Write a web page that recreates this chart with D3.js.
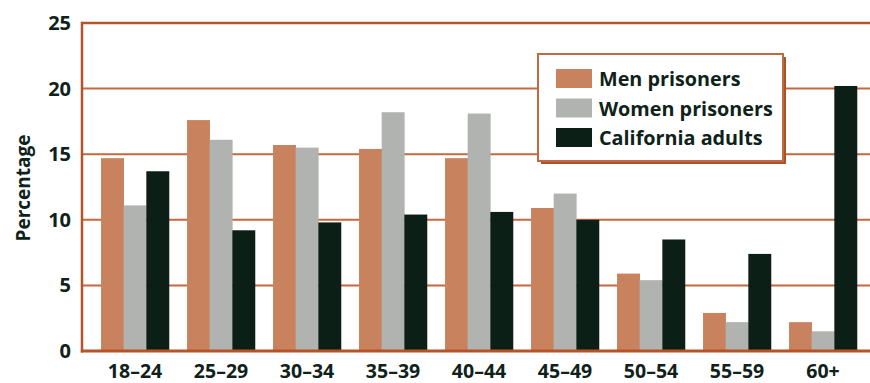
<!DOCTYPE html>
<html>
<head>
<meta charset="utf-8">
<script src="https://cdn.jsdelivr.net/npm/d3@7"></script>
<style>
  html, body { margin: 0; padding: 0; background: #fff; }
  svg { display: block; }
  text { font-family: "Open Sans", "Noto Sans", sans-serif; font-weight: 700; fill: #0f2219; }
</style>
</head>
<body>
<svg id="chart" width="870" height="383"></svg>
<script>
// Age groups on the horizontal axis
const ageGroups = ["18–24", "25–29", "30–34", "35–39", "40–44", "45–49", "50–54", "55–59", "60+"];

// Share of each population in each age group (percent)
const menPrisoners   = [14.7, 17.6, 15.7, 15.4, 14.7, 10.9, 5.9, 2.9, 2.2];
const womenPrisoners = [11.1, 16.1, 15.5, 18.2, 18.1, 12.0, 5.4, 2.2, 1.5];
const californiaAdults = [13.7, 9.2, 9.8, 10.4, 10.6, 10.0, 8.5, 7.4, 20.2];

const seriesNames = ["Men prisoners", "Women prisoners", "California adults"];
const seriesValues = [menPrisoners, womenPrisoners, californiaAdults];
const seriesColors = ["#c8835e", "#b1b3b0", "#0c1f16"];

const yTicks = [0, 5, 10, 15, 20, 25];

const svg = d3.select("#chart");
const axisColor = "#b5542a";
const gridColor = "#c4683f";

const plotLeft = 82, plotRight = 870, plotTop = 23, plotBottom = 351;

const x = d3.scaleBand()
  .domain(ageGroups)
  .range([92, 866])
  .paddingInner(0.21)
  .paddingOuter(0.105);

const xSub = d3.scaleBand()
  .domain(seriesNames)
  .range([0, x.bandwidth()]);

const y = d3.scaleLinear()
  .domain([0, 25])
  .range([plotBottom, plotTop]);

// Horizontal gridlines
svg.append("g")
  .selectAll("line")
  .data(yTicks.filter(t => t > 0 && t < 25))
  .join("line")
  .attr("x1", plotLeft).attr("x2", plotRight)
  .attr("y1", d => y(d)).attr("y2", d => y(d))
  .attr("stroke", gridColor)
  .attr("stroke-width", 2);

// Top frame line
svg.append("line")
  .attr("x1", plotLeft).attr("x2", plotRight)
  .attr("y1", y(25)).attr("y2", y(25))
  .attr("stroke", axisColor).attr("stroke-width", 2.5);

// Bars
const rows = ageGroups.map((g, i) => ({ group: g, values: seriesNames.map((s, j) => ({ series: s, value: seriesValues[j][i], color: seriesColors[j] })) }));

svg.append("g")
  .selectAll("g")
  .data(rows)
  .join("g")
  .attr("transform", d => `translate(${x(d.group)},0)`)
  .selectAll("rect")
  .data(d => d.values)
  .join("rect")
  .attr("x", d => xSub(d.series))
  .attr("width", xSub.bandwidth() + 0.3)
  .attr("y", d => y(d.value))
  .attr("height", d => y(0) - y(d.value))
  .attr("fill", d => d.color);

// Left axis line
svg.append("line")
  .attr("x1", plotLeft).attr("x2", plotLeft)
  .attr("y1", plotTop - 1.2).attr("y2", plotBottom + 1.5)
  .attr("stroke", axisColor).attr("stroke-width", 2.5);

// Bottom axis line
svg.append("line")
  .attr("x1", plotLeft - 1.2).attr("x2", plotRight)
  .attr("y1", plotBottom).attr("y2", plotBottom)
  .attr("stroke", axisColor).attr("stroke-width", 3);

// Y tick labels
const yAxis = d3.axisLeft(y).tickValues(yTicks).tickSize(0).tickPadding(0);
const gy = svg.append("g").attr("transform", `translate(71,0)`).call(yAxis);
gy.select(".domain").remove();
gy.selectAll("text")
  .attr("font-size", 20)
  .attr("font-family", "\"Open Sans\", \"Noto Sans\", sans-serif")
  .attr("font-weight", 700)
  .attr("fill", "#0f2219");

// X tick labels
const xAxis = d3.axisBottom(x).tickSize(0).tickPadding(0);
const gx = svg.append("g").attr("transform", `translate(0,364)`).call(xAxis);
gx.select(".domain").remove();
gx.selectAll("text")
  .attr("dy", "0.71em")
  .attr("y", 0)
  .attr("font-size", 19.5)
  .attr("font-family", "\"Open Sans\", \"Noto Sans\", sans-serif")
  .attr("font-weight", 700)
  .attr("fill", "#0f2219");

// Y axis title
svg.append("text")
  .attr("transform", "translate(30,188) rotate(-90)")
  .attr("text-anchor", "middle")
  .attr("font-size", 19)
  .text("Percentage");

// Legend
const legend = svg.append("g").attr("transform", "translate(538,54)");
legend.append("rect")
  .attr("x", 3).attr("y", 3).attr("width", 245).attr("height", 107)
  .attr("fill", "#a9532c");
legend.append("rect")
  .attr("x", 0).attr("y", 0).attr("width", 245).attr("height", 107)
  .attr("fill", "#fff")
  .attr("stroke", "#bf6a44").attr("stroke-width", 2);

const items = legend.selectAll("g.item")
  .data(seriesNames)
  .join("g")
  .attr("class", "item")
  .attr("transform", (d, i) => `translate(18,${15 + i * 29.5})`);
items.append("rect")
  .attr("width", 36).attr("height", 19)
  .attr("fill", (d, i) => seriesColors[i]);
items.append("text")
  .attr("x", 43).attr("y", 10)
  .attr("dy", "0.36em")
  .attr("font-size", 19.8)
  .text(d => d);
</script>
</body>
</html>
